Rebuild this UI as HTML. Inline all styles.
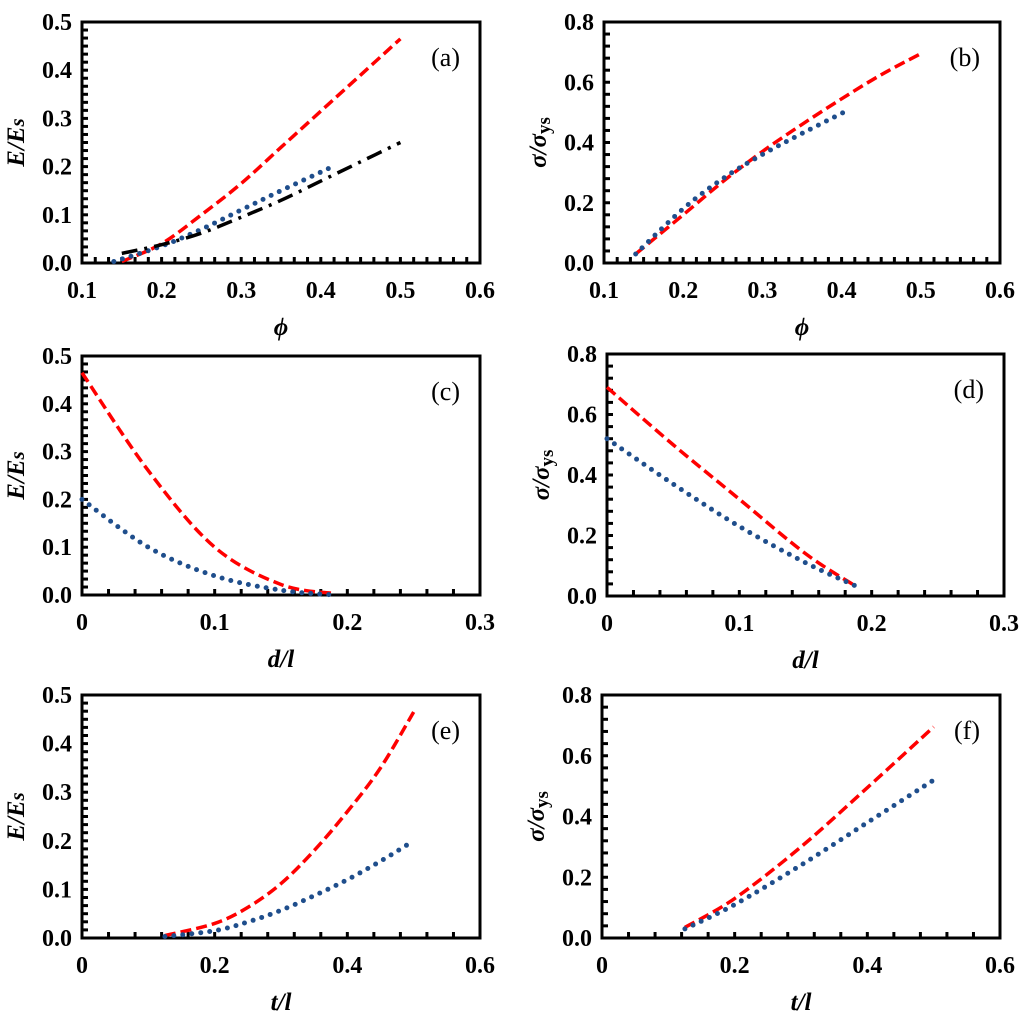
<!DOCTYPE html>
<html><head><meta charset="utf-8"><style>
html,body{margin:0;padding:0;background:#fff;}
svg{display:block;}
text{font-family:"Liberation Serif","DejaVu Serif",serif;}
.tk{font-weight:bold;font-size:24px;}
.ti{font-weight:bold;font-style:italic;font-size:25px;}
.pl{font-size:26px;}
</style></head><body>
<svg id="fig" width="1024" height="1015" viewBox="0 0 1024 1015" xmlns="http://www.w3.org/2000/svg"></svg>
<script>
// Panel (a)
const aRedX=[0.15,0.2,0.25,0.3,0.35,0.4,0.45,0.5];
const aRedY=[0.003,0.04,0.1,0.165,0.24,0.315,0.39,0.465];
const aBlueX=[0.14,0.2,0.25,0.3,0.35,0.415];
const aBlueY=[0.003,0.035,0.07,0.11,0.15,0.2];
const aBlackX=[0.15,0.2,0.25,0.3,0.35,0.4,0.45,0.5];
const aBlackY=[0.02,0.038,0.062,0.095,0.13,0.17,0.21,0.25];
// Panel (b)
const bRedX=[0.14,0.2,0.25,0.3,0.35,0.4,0.45,0.5];
const bRedY=[0.03,0.16,0.27,0.37,0.46,0.545,0.625,0.695];
const bBlueX=[0.14,0.2,0.25,0.3,0.35,0.41];
const bBlueY=[0.03,0.18,0.28,0.36,0.43,0.51];
// Panel (c)
const cRedX=[0,0.05,0.1,0.15,0.19];
const cRedY=[0.465,0.26,0.1,0.022,0.003];
const cBlueX=[0,0.05,0.1,0.15,0.19];
const cBlueY=[0.2,0.1,0.04,0.01,0.0];
// Panel (d)
const dRedX=[0,0.05,0.1,0.15,0.187];
const dRedY=[0.69,0.5,0.32,0.14,0.035];
const dBlueX=[0,0.05,0.1,0.15,0.187];
const dBlueY=[0.52,0.37,0.23,0.11,0.035];
// Panel (e)
const eRedX=[0.125,0.2,0.25,0.3,0.35,0.4,0.45,0.5];
const eRedY=[0.005,0.03,0.063,0.112,0.18,0.26,0.35,0.465];
const eBlueX=[0.125,0.2,0.25,0.3,0.35,0.4,0.45,0.5];
const eBlueY=[0.003,0.015,0.033,0.057,0.087,0.12,0.158,0.2];
// Panel (f)
const fRedX=[0.125,0.2,0.3,0.4,0.5];
const fRedY=[0.035,0.13,0.3,0.495,0.695];
const fBlueX=[0.125,0.2,0.3,0.4,0.5];
const fBlueY=[0.03,0.11,0.24,0.38,0.52];
// tick labels
const phiTicks=["0.1","0.2","0.3","0.4","0.5","0.6"];
const dlTicks=["0","0.1","0.2","0.3"];
const tlTicks=["0","0.2","0.4","0.6"];
const eTicks=["0.0","0.1","0.2","0.3","0.4","0.5"];
const sTicks=["0.0","0.2","0.4","0.6","0.8"];

const NS="http://www.w3.org/2000/svg";
const svg=document.getElementById('fig');
function mk(tag,attrs,parent){const e=document.createElementNS(NS,tag);for(const k in attrs)e.setAttribute(k,attrs[k]);(parent||svg).appendChild(e);return e;}

function panel(p){
  const g=mk('g',{});
  
  
  const sx=v=>p.x0+(v-p.xmin)/(p.xmax-p.xmin)*(p.x1-p.x0);
  const sy=v=>p.y1-(v-p.ymin)/(p.ymax-p.ymin)*(p.y1-p.y0);
  for(let i=1;i<p.xdiv;i++){const x=p.x0+i*(p.x1-p.x0)/p.xdiv;const t=mk('line',{x1:x,x2:x,y1:p.y1,y2:p.y1-6,stroke:'#000','stroke-width':3},g);}
  for(let i=1;i<p.ydiv;i++){const y=p.y0+i*(p.y1-p.y0)/p.ydiv;const t=mk('line',{x1:p.x0,x2:p.x0+6,y1:y,y2:y,stroke:'#000','stroke-width':3},g);}
  const r=mk('rect',{x:p.x0,y:p.y0,width:p.x1-p.x0,height:p.y1-p.y0,fill:'none',stroke:'#000','stroke-width':3},g);
  
  p.xt.forEach((s,i)=>{const v=p.xmin+i*(p.xmax-p.xmin)/(p.xt.length-1);const t=mk('text',{x:sx(v),y:p.y1+35,'text-anchor':'middle',class:'tk','font-family':'Liberation Serif, DejaVu Serif, serif'},g);t.textContent=s;});
  p.yt.forEach((s,i)=>{const v=p.ymin+i*(p.ymax-p.ymin)/(p.yt.length-1);const t=mk('text',{x:p.x0-10,y:sy(v)+8,'text-anchor':'end',class:'tk','font-family':'Liberation Serif, DejaVu Serif, serif'},g);t.textContent=s;});
  const xt=mk('text',{x:(p.x0+p.x1)/2,y:p.y1+72,'text-anchor':'middle',class:'ti','font-family':'Liberation Serif, DejaVu Serif, serif'},g);xt.textContent=p.xlab;
  
  const yx=p.x0-58,yy=(p.y0+p.y1)/2;
  const yt=mk('text',{x:yx,y:yy,'text-anchor':'middle',class:'ti','font-family':'Liberation Serif, DejaVu Serif, serif',transform:`rotate(-90 ${yx} ${yy})`},g);
  
  if(p.ylab==='E'){yt.innerHTML='E/E<tspan font-size="21">s</tspan>';}
  else{yt.innerHTML='σ/σ<tspan font-size="19" dy="4" font-style="normal">ys</tspan>';}
  const pl=mk('text',{x:p.x1-20,y:p.y0+44,'text-anchor':'end',class:'pl','font-family':'Liberation Serif, DejaVu Serif, serif'},g);pl.textContent='('+p.id+')';
  
  p.series.forEach(s=>{
    const pts=s.x.map((v,i)=>[sx(v),sy(s.y[i])]);
    let d='M'+pts[0][0]+','+pts[0][1];
    for(let i=0;i<pts.length-1;i++){
      const p0=pts[Math.max(0,i-1)],p1=pts[i],p2=pts[i+1],p3=pts[Math.min(pts.length-1,i+2)];
      const c1=[p1[0]+(p2[0]-p0[0])/6,p1[1]+(p2[1]-p0[1])/6],c2=[p2[0]-(p3[0]-p1[0])/6,p2[1]-(p3[1]-p1[1])/6];
      d+=` C${c1[0]},${c1[1]} ${c2[0]},${c2[1]} ${p2[0]},${p2[1]}`;
    }
    let a;
    if(s.t==='red')a={stroke:'#ff0000','stroke-width':3.5,'stroke-dasharray':'11 5'};
    else if(s.t==='blue')a={stroke:'#1f4e8c','stroke-width':5,'stroke-dasharray':'0 9','stroke-linecap':'round'};
    else a={stroke:'#000','stroke-width':3.5,'stroke-dasharray':'16 7 3 7'};
    a.d=d;a.fill='none';
    const path=mk('path',a,g);
    
    
  });
}
panel({id:'a',x0:82,x1:480,y0:22,y1:263,xmin:0.1,xmax:0.6,ymin:0,ymax:0.5,xdiv:30,ydiv:30,xt:phiTicks,yt:eTicks,xlab:'ϕ',ylab:'E',
  series:[{t:'red',x:aRedX,y:aRedY},{t:'blue',x:aBlueX,y:aBlueY},{t:'black',x:aBlackX,y:aBlackY}]});
panel({id:'b',x0:604,x1:1000,y0:22,y1:263,xmin:0.1,xmax:0.6,ymin:0,ymax:0.8,xdiv:30,ydiv:20,xt:phiTicks,yt:sTicks,xlab:'ϕ',ylab:'S',
  series:[{t:'red',x:bRedX,y:bRedY},{t:'blue',x:bBlueX,y:bBlueY}]});
panel({id:'c',x0:82,x1:480,y0:356,y1:595,xmin:0,xmax:0.3,ymin:0,ymax:0.5,xdiv:15,ydiv:30,xt:dlTicks,yt:eTicks,xlab:'d/l',ylab:'E',
  series:[{t:'red',x:cRedX,y:cRedY},{t:'blue',x:cBlueX,y:cBlueY}]});
panel({id:'d',x0:607,x1:1004,y0:354,y1:596,xmin:0,xmax:0.3,ymin:0,ymax:0.8,xdiv:15,ydiv:20,xt:dlTicks,yt:sTicks,xlab:'d/l',ylab:'S',
  series:[{t:'red',x:dRedX,y:dRedY},{t:'blue',x:dBlueX,y:dBlueY}]});
panel({id:'e',x0:82,x1:480,y0:695,y1:938,xmin:0,xmax:0.6,ymin:0,ymax:0.5,xdiv:15,ydiv:30,xt:tlTicks,yt:eTicks,xlab:'t/l',ylab:'E',
  series:[{t:'red',x:eRedX,y:eRedY},{t:'blue',x:eBlueX,y:eBlueY}]});
panel({id:'f',x0:602,x1:1000,y0:695,y1:938,xmin:0,xmax:0.6,ymin:0,ymax:0.8,xdiv:15,ydiv:20,xt:tlTicks,yt:sTicks,xlab:'t/l',ylab:'S',
  series:[{t:'red',x:fRedX,y:fRedY},{t:'blue',x:fBlueX,y:fBlueY}]});
</script>
</body></html>
